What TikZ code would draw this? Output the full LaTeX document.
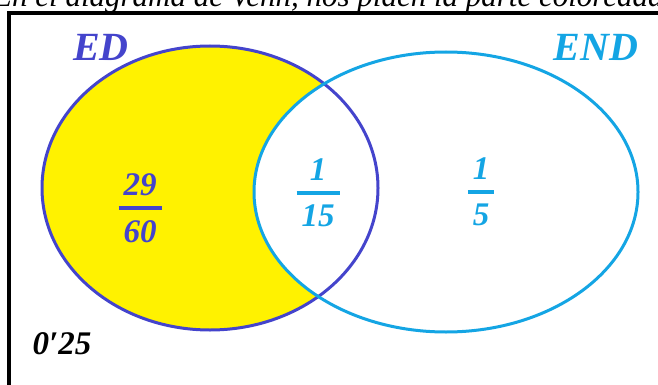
\documentclass[tikz,border=0pt]{standalone}
\usepackage{amsmath}
\usepackage{fontspec}
\setmainfont{Liberation Serif}
\usepackage{tikz}
\definecolor{edblue}{RGB}{68,68,204}
\definecolor{endcyan}{RGB}{20,165,228}
\definecolor{vennyellow}{RGB}{255,242,0}
\newcommand{\vennfrac}[2]{$\genfrac{}{}{3.5pt}{0}{\mbox{\kern5pt#1\kern5pt}}{\mbox{\kern5pt#2\kern5pt}}$}

\begin{document}
\begin{tikzpicture}[x=1pt,y=-1pt,
	lbl/.style={font=\fontsize{40}{46}\selectfont\bfseries\itshape},
	num/.style={font=\fontsize{33}{39}\selectfont\bfseries\itshape, inner sep=0pt}]
	\useasboundingbox (0,0) rectangle (658,385);
	\clip (0,0) rectangle (658,385);
	\def\edc{(210,188)}
	\def\endc{(446,192)}
	% heading, cut by the page
	\node[anchor=base west, inner sep=0pt, font=\fontsize{31}{36}\selectfont\itshape] (head) at (-7,7) {En el diagrama de Venn, nos piden la parte coloreada};
	% frame
	\draw[black, line width=3.2pt] (9,400) -- (9,13) -- (670,13);
	% sets
	\fill[vennyellow] \edc ellipse [x radius=168, y radius=142];
	\fill[white] \endc ellipse [x radius=192, y radius=140];
	\draw[edblue, line width=3pt] \edc ellipse [x radius=168, y radius=142];
	\draw[endcyan, line width=3pt] \endc ellipse [x radius=192, y radius=140];
	% labels
	\node[lbl, edblue] (ED) at (101,47) {ED};
	\node[lbl, endcyan] (END) at (596,47) {END};
	\node[num, edblue] (onlyED) at (140,208) {\vennfrac{29}{60}};
	\node[num, endcyan] (both) at (318,193) {\vennfrac{1}{15}};
	\node[num, endcyan] (onlyEND) at (481,192) {\vennfrac{1}{5}};
	\node[num, black] (prob) at (62,344) {0′25};
\end{tikzpicture}
\end{document}
